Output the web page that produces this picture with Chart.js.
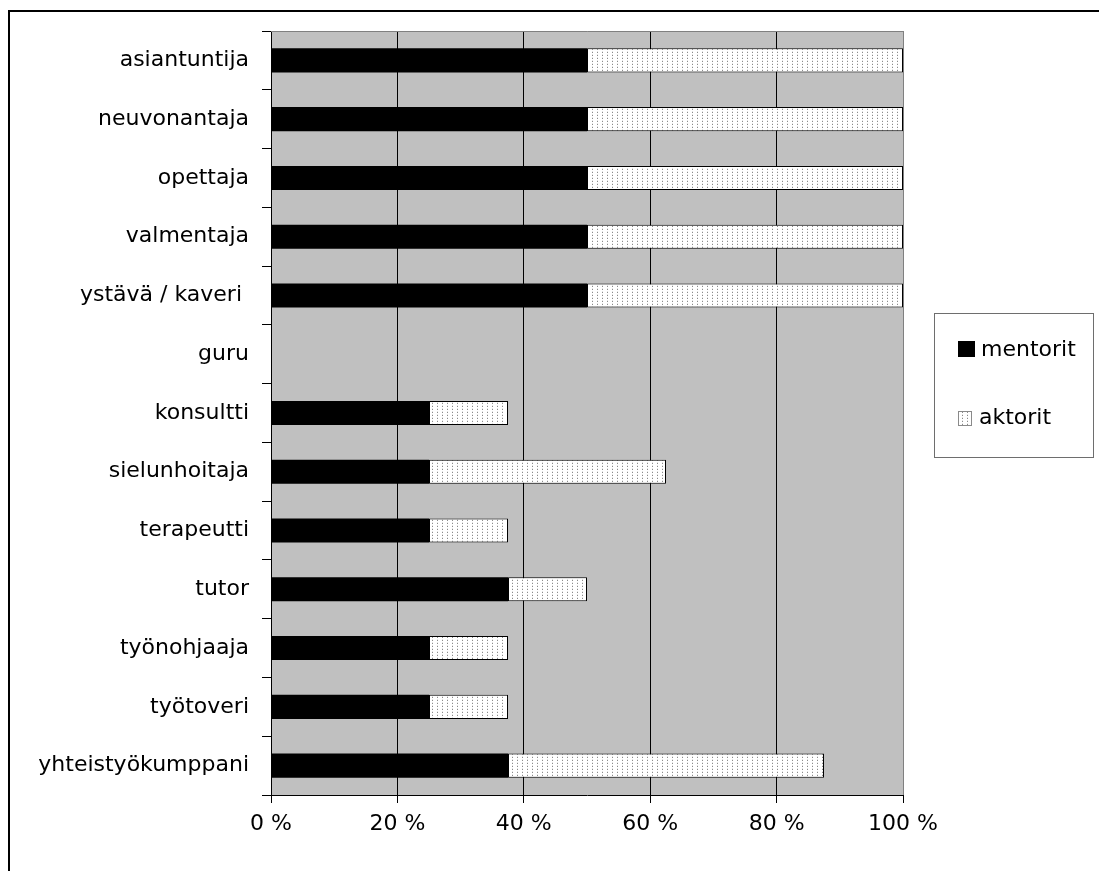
<!DOCTYPE html>
<html>
<head>
<meta charset="utf-8">
<title>Mentorin roolit</title>
<script src="https://cdn.jsdelivr.net/npm/chart.js@4.4.1/dist/chart.umd.min.js"></script>
<style>
  html, body { margin: 0; padding: 0; background: #ffffff; }
  #wrap { position: relative; width: 1099px; height: 871px; }
</style>
</head>
<body>
<div id="wrap"><canvas id="chart" width="1099" height="871"></canvas></div>
<script>
// Roles, in the order they are listed from top to bottom
const categories = [
  'asiantuntija', 'neuvonantaja', 'opettaja', 'valmentaja', 'ystävä / kaveri ',
  'guru', 'konsultti', 'sielunhoitaja', 'terapeutti', 'tutor',
  'työnohjaaja', 'työtoveri', 'yhteistyökumppani'
];
// Share of answers (%), stacked per role
const mentorit = [50, 50, 50, 50, 50, 0, 25, 25, 25, 37.5, 25, 25, 37.5];
const aktorit  = [50, 50, 50, 50, 50, 0, 12.5, 37.5, 12.5, 12.5, 12.5, 12.5, 50];
const seriesNames = ['mentorit', 'aktorit'];
const xTickValues = [0, 20, 40, 60, 80, 100];
const xTickLabels = ['0 %', '20 %', '40 %', '60 %', '80 %', '100 %'];

const FONT = 'DejaVu Sans, Liberation Sans, Arial, sans-serif';

// Dotted fill used for the second series
function makeDots() {
  const c = document.createElement('canvas');
  c.width = 5; c.height = 3;
  const g = c.getContext('2d');
  g.fillStyle = '#ffffff';
  g.fillRect(0, 0, 5, 3);
  g.fillStyle = '#8c8c8c';
  g.fillRect(2, 1, 1, 1);
  g.fillStyle = '#e4e4e4';
  g.fillRect(2, 0, 1, 1);
  return g.createPattern(c, 'repeat');
}
const dots = makeDots();

// Grey plot background, grey top/right frame, outer border and the boxed legend
const decor = {
  id: 'decor',
  beforeDraw(chart) {
    const { ctx, chartArea: a } = chart;
    ctx.save();
    ctx.fillStyle = '#c0c0c0';
    ctx.fillRect(a.left, a.top, a.right - a.left, a.bottom - a.top);
    ctx.restore();
  },
  afterDraw(chart) {
    const { ctx, chartArea: a } = chart;
    ctx.save();
    // grey top and right edges of the plot
    ctx.strokeStyle = '#808080';
    ctx.lineWidth = 1;
    ctx.beginPath();
    ctx.moveTo(a.left, a.top + 0.5);
    ctx.lineTo(a.right + 0.5, a.top + 0.5);
    ctx.lineTo(a.right + 0.5, a.bottom);
    ctx.stroke();

    // outer frame
    ctx.strokeStyle = '#000000';
    ctx.lineWidth = 2;
    ctx.strokeRect(9, 11, 1200, 1000);

    // legend box
    const bx = 934.5, by = 313.5, bw = 159, bh = 144;
    ctx.fillStyle = '#ffffff';
    ctx.fillRect(bx, by, bw, bh);
    ctx.strokeStyle = '#6e6e6e';
    ctx.lineWidth = 1;
    ctx.strokeRect(bx, by, bw, bh);

    const ds = chart.data.datasets;
    ctx.font = '22px ' + FONT;
    ctx.textBaseline = 'middle';
    ctx.textAlign = 'left';

    // first entry: solid square
    ctx.fillStyle = ds[0].backgroundColor;
    ctx.fillRect(958, 341, 17, 16);
    ctx.fillStyle = '#000000';
    ctx.fillText(ds[0].label, 981, 350);

    // second entry: dotted square
    ctx.fillStyle = ds[1].backgroundColor;
    ctx.fillRect(958, 411, 14, 15);
    ctx.strokeStyle = '#8a8a8a';
    ctx.strokeRect(958.5, 411.5, 13, 14);
    ctx.fillStyle = '#000000';
    ctx.fillText(ds[1].label, 979, 418);
    ctx.restore();
  }
};

new Chart(document.getElementById('chart'), {
  type: 'bar',
  data: {
    labels: categories,
    datasets: [
      {
        label: seriesNames[0],
        data: mentorit,
        backgroundColor: '#000000',
        borderColor: '#000000',
        borderWidth: 0,
        categoryPercentage: 1,
        barPercentage: 0.41
      },
      {
        label: seriesNames[1],
        data: aktorit,
        backgroundColor: dots,
        borderColor: '#000000',
        borderWidth: 1,
        borderSkipped: false,
        categoryPercentage: 1,
        barPercentage: 0.41
      }
    ]
  },
  options: {
    indexAxis: 'y',
    responsive: false,
    animation: false,
    devicePixelRatio: 1,
    layout: { padding: { top: 31, right: 196, left: 0, bottom: 0 } },
    plugins: {
      legend: { display: false },
      tooltip: { enabled: false }
    },
    scales: {
      x: {
        stacked: true,
        min: 0,
        max: 100,
        afterBuildTicks(scale) {
          scale.ticks = xTickValues.map(v => ({ value: v }));
        },
        afterFit(scale) { scale.height = 76; },
        border: { display: true, color: '#000000', width: 1 },
        grid: {
          color: ctx => (ctx.tick && ctx.tick.value === 100 ? '#808080' : '#000000'),
          tickColor: '#000000',
          tickLength: 8,
          lineWidth: 1
        },
        ticks: {
          color: '#000000',
          font: { family: FONT, size: 22 },
          padding: 8,
          maxRotation: 0,
          callback: (v) => xTickLabels[xTickValues.indexOf(v)]
        }
      },
      y: {
        stacked: true,
        afterFit(scale) { scale.width = 271; },
        border: { display: true, color: '#000000', width: 1 },
        grid: {
          offset: true,
          drawOnChartArea: false,
          color: '#000000',
          tickLength: 9
        },
        ticks: {
          color: '#000000',
          font: { family: FONT, size: 22 },
          padding: 13,
          autoSkip: false
        }
      }
    }
  },
  plugins: [decor]
});
</script>
</body>
</html>
